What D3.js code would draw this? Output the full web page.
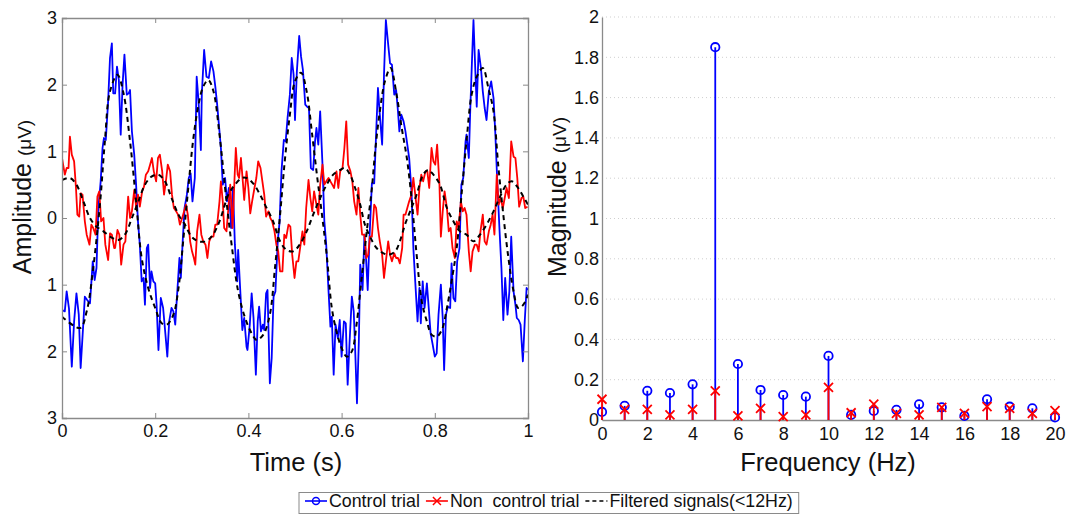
<!DOCTYPE html>
<html lang="en">
<head>
<meta charset="UTF-8">
<title>Control vs non control trial</title>
<script src="https://d3js.org/d3.v7.min.js"></script>
<style>
  body { margin: 0; background: #fff; }
  svg text { font-family: "Liberation Sans", Arial, sans-serif; fill: #111; }
</style>
</head>
<body>
<svg id="chart" width="1070" height="514"></svg>
<script>
// ---- time domain data, [time (s), amplitude (uV)] ----
var controlTrial = [
  [0.000,-1.38],[0.006,-1.40],[0.010,-1.10],[0.015,-1.36],[0.021,-2.23],[0.026,-1.55],[0.031,-1.13],[0.036,-1.45],
  [0.040,-2.25],[0.046,-1.55],[0.049,-1.18],[0.054,-1.23],[0.060,-1.28],[0.066,-0.65],[0.070,-0.93],[0.074,-0.75],
  [0.078,0.15],[0.083,0.55],[0.087,1.05],[0.090,1.20],[0.094,1.17],[0.099,1.75],[0.103,2.40],[0.107,2.62],
  [0.110,1.87],[0.114,1.87],[0.118,2.27],[0.122,2.07],[0.126,1.25],[0.130,2.00],[0.134,2.45],[0.139,1.85],
  [0.143,1.87],[0.146,1.92],[0.150,1.30],[0.155,0.95],[0.159,0.50],[0.163,-0.05],[0.167,-0.40],[0.171,-0.95],
  [0.175,-0.90],[0.178,-1.30],[0.182,-0.45],[0.185,-0.40],[0.189,-1.05],[0.192,-0.80],[0.196,-0.95],[0.200,-0.98],
  [0.203,-1.30],[0.207,-1.98],[0.212,-1.20],[0.217,-1.35],[0.222,-1.75],[0.226,-2.08],[0.230,-1.55],[0.235,-1.35],
  [0.239,-1.40],[0.243,-1.60],[0.247,-1.15],[0.252,-0.60],[0.255,-0.90],[0.259,-0.35],[0.263,0.15],[0.268,0.35],
  [0.272,0.60],[0.276,0.67],[0.280,0.25],[0.285,0.60],[0.289,2.12],[0.293,1.75],[0.298,1.02],[0.300,1.85],
  [0.305,2.52],[0.310,2.12],[0.315,2.10],[0.320,2.35],[0.325,2.20],[0.329,1.97],[0.333,1.70],[0.341,1.05],
  [0.345,0.50],[0.350,0.60],[0.354,0.25],[0.358,0.45],[0.363,-0.15],[0.367,0.45],[0.371,-0.40],[0.376,-0.95],
  [0.378,-0.48],[0.383,-1.15],[0.387,-1.68],[0.391,-1.50],[0.396,-1.93],[0.398,-1.98],[0.403,-1.60],[0.407,-1.13],
  [0.411,-1.50],[0.416,-2.35],[0.420,-1.55],[0.423,-1.33],[0.427,-1.70],[0.431,-1.60],[0.434,-1.68],[0.438,-1.13],
  [0.441,-1.08],[0.446,-2.48],[0.450,-2.10],[0.454,-1.18],[0.458,-1.10],[0.463,-0.35],[0.467,-0.05],[0.471,0.70],
  [0.476,1.17],[0.480,1.15],[0.484,1.50],[0.489,1.85],[0.493,2.40],[0.497,2.15],[0.500,1.47],[0.504,2.20],
  [0.509,2.73],[0.513,2.42],[0.517,2.22],[0.522,1.70],[0.526,1.67],[0.530,1.65],[0.534,0.75],[0.539,0.72],
  [0.543,1.15],[0.546,1.35],[0.550,1.10],[0.554,1.60],[0.559,0.80],[0.563,-0.05],[0.567,-0.40],[0.572,-1.10],
  [0.576,-1.63],[0.579,-1.48],[0.583,-2.35],[0.587,-1.60],[0.592,-1.80],[0.596,-1.53],[0.600,-2.08],[0.605,-1.55],
  [0.609,-1.58],[0.613,-2.50],[0.617,-1.88],[0.622,-1.18],[0.626,-1.40],[0.629,-1.95],[0.633,-2.78],[0.637,-1.85],
  [0.640,-0.70],[0.645,-1.08],[0.649,-0.25],[0.652,-0.55],[0.656,-1.08],[0.660,-0.28],[0.665,0.52],[0.670,0.52],
  [0.674,1.25],[0.678,1.95],[0.682,1.55],[0.687,1.10],[0.691,2.15],[0.695,2.97],[0.700,2.60],[0.704,2.32],
  [0.708,2.30],[0.713,1.85],[0.717,1.92],[0.721,1.60],[0.724,1.30],[0.728,1.55],[0.733,1.45],[0.737,1.30],
  [0.741,1.10],[0.745,0.90],[0.750,0.40],[0.754,-0.45],[0.758,-0.95],[0.763,-1.55],[0.767,-1.05],[0.770,-1.58],
  [0.774,-0.95],[0.778,-1.35],[0.783,-0.98],[0.787,-1.35],[0.791,-1.73],[0.795,-1.88],[0.800,-2.08],[0.804,-2.03],
  [0.808,-1.45],[0.813,-1.00],[0.817,-1.50],[0.820,-2.28],[0.824,-1.45],[0.828,-1.33],[0.833,-1.35],[0.836,-0.68],
  [0.840,-1.20],[0.844,-1.25],[0.848,-0.65],[0.853,-0.45],[0.857,0.50],[0.861,0.60],[0.866,1.15],[0.868,1.25],
  [0.873,0.90],[0.876,1.60],[0.880,2.40],[0.883,2.97],[0.887,2.20],[0.890,1.67],[0.894,2.52],[0.899,2.25],
  [0.903,1.90],[0.907,1.65],[0.911,1.47],[0.916,1.90],[0.921,2.05],[0.926,1.80],[0.930,1.25],[0.934,0.55],
  [0.939,-0.20],[0.943,-0.75],[0.947,-1.53],[0.951,-0.90],[0.956,-1.45],[0.960,-1.10],[0.964,-0.28],[0.969,-1.10],
  [0.973,-1.30],[0.976,-1.50],[0.980,-1.53],[0.984,-1.60],[0.989,-2.15],[0.993,-1.55],[0.997,-1.05],[1.000,-1.08]
];

var nonControlTrial = [
  [0.000,0.90],[0.006,0.65],[0.010,0.75],[0.014,0.75],[0.017,1.22],[0.021,0.95],[0.026,0.85],[0.030,0.45],
  [0.033,0.05],[0.037,0.02],[0.040,0.37],[0.044,0.35],[0.049,-0.05],[0.053,-0.25],[0.059,-0.40],[0.063,-0.10],
  [0.067,-0.15],[0.072,-0.25],[0.076,0.32],[0.080,0.40],[0.084,-0.05],[0.089,0.00],[0.093,-0.40],[0.099,-0.63],
  [0.103,-0.23],[0.107,-0.25],[0.112,-0.45],[0.114,-0.45],[0.119,-0.18],[0.123,-0.25],[0.127,-0.70],[0.132,-0.40],
  [0.136,-0.35],[0.142,0.32],[0.146,0.00],[0.150,0.10],[0.155,0.42],[0.159,0.17],[0.163,0.35],[0.167,0.17],
  [0.172,0.40],[0.176,0.47],[0.180,0.65],[0.185,0.70],[0.189,0.80],[0.193,0.90],[0.197,0.70],[0.202,0.55],
  [0.206,0.90],[0.210,0.95],[0.215,0.70],[0.219,0.35],[0.223,0.55],[0.227,0.80],[0.232,0.70],[0.236,0.35],
  [0.240,0.15],[0.245,0.10],[0.249,0.05],[0.253,-0.10],[0.258,0.00],[0.262,0.10],[0.266,0.20],[0.270,0.05],
  [0.275,-0.35],[0.279,-0.50],[0.283,-0.60],[0.286,-0.70],[0.290,-0.20],[0.295,0.05],[0.299,-0.25],[0.303,-0.35],
  [0.308,-0.40],[0.312,-0.60],[0.316,-0.35],[0.320,-0.28],[0.325,-0.28],[0.329,-0.10],[0.333,-0.10],[0.338,0.25],
  [0.341,0.55],[0.345,0.25],[0.348,-0.15],[0.353,-0.20],[0.357,0.15],[0.361,0.50],[0.366,-0.15],[0.370,0.55],
  [0.373,1.05],[0.377,0.65],[0.380,0.60],[0.384,0.90],[0.388,0.55],[0.391,0.27],[0.396,0.70],[0.400,0.45],
  [0.404,0.07],[0.408,0.25],[0.413,0.45],[0.417,0.60],[0.421,0.85],[0.426,0.75],[0.430,0.55],[0.434,0.35],
  [0.438,0.02],[0.443,0.10],[0.447,0.00],[0.451,-0.05],[0.456,-0.20],[0.460,-0.40],[0.464,-0.50],[0.468,-0.80],
  [0.473,-0.80],[0.477,-0.25],[0.481,-0.30],[0.486,-0.10],[0.490,-0.13],[0.494,-0.55],[0.499,-0.90],[0.503,-0.65],
  [0.507,-0.65],[0.511,-0.45],[0.516,-0.20],[0.520,-0.40],[0.524,0.15],[0.529,0.57],[0.533,0.30],[0.537,0.10],
  [0.541,0.40],[0.546,0.20],[0.550,0.05],[0.554,0.50],[0.559,0.80],[0.563,0.50],[0.567,0.55],[0.572,0.60],
  [0.576,0.55],[0.580,0.50],[0.584,0.45],[0.589,0.70],[0.593,0.45],[0.597,0.70],[0.602,0.75],[0.606,1.05],
  [0.610,1.45],[0.614,0.80],[0.619,0.70],[0.623,0.55],[0.627,0.25],[0.632,0.05],[0.636,0.45],[0.640,0.05],
  [0.644,-0.25],[0.649,-0.25],[0.653,-0.60],[0.657,-0.55],[0.661,-0.28],[0.665,-0.28],[0.670,0.20],[0.674,0.15],
  [0.678,-0.15],[0.682,-0.35],[0.687,-0.55],[0.691,-0.90],[0.695,-0.65],[0.700,-0.35],[0.704,-0.55],[0.708,-0.65],
  [0.713,-0.53],[0.717,-0.60],[0.721,-0.60],[0.725,-0.68],[0.730,-0.45],[0.733,0.05],[0.737,0.05],[0.741,0.15],
  [0.745,0.25],[0.750,0.35],[0.754,0.60],[0.758,0.35],[0.763,0.05],[0.767,0.45],[0.771,0.65],[0.775,0.55],
  [0.780,0.70],[0.784,0.70],[0.788,0.45],[0.793,1.05],[0.797,0.85],[0.801,0.80],[0.805,1.10],[0.810,0.50],
  [0.813,-0.28],[0.817,0.10],[0.821,0.40],[0.826,0.15],[0.830,-0.20],[0.834,-0.15],[0.838,-0.45],[0.843,-0.60],
  [0.847,-0.05],[0.851,-0.15],[0.856,0.25],[0.860,0.10],[0.864,0.15],[0.868,0.05],[0.873,-0.50],[0.877,-0.80],
  [0.881,-0.50],[0.886,-0.40],[0.890,-0.40],[0.894,-0.50],[0.898,-0.20],[0.903,0.05],[0.907,-0.35],[0.911,-0.40],
  [0.916,-0.20],[0.920,-0.10],[0.924,0.05],[0.928,-0.25],[0.933,0.65],[0.937,0.20],[0.941,0.30],[0.946,0.15],
  [0.950,0.30],[0.954,0.45],[0.959,0.30],[0.964,1.15],[0.969,0.92],[0.973,0.90],[0.977,0.60],[0.981,0.17],
  [0.986,0.30],[0.990,0.32],[0.994,0.15],[0.999,0.17]
];

var filteredControl = [
  [0.000,-1.48],[0.039,-1.65],[0.053,-1.40],[0.067,-0.75],[0.082,0.25],[0.092,1.15],[0.103,1.90],[0.119,2.15],
  [0.132,1.87],[0.146,1.15],[0.159,0.25],[0.171,-0.60],[0.185,-1.05],[0.200,-1.35],[0.214,-1.58],[0.225,-1.60],
  [0.239,-1.45],[0.250,-1.05],[0.260,-0.35],[0.271,0.45],[0.282,1.20],[0.293,1.70],[0.303,1.97],[0.314,2.07],
  [0.325,1.90],[0.338,1.25],[0.353,0.25],[0.364,-0.40],[0.378,-1.10],[0.393,-1.50],[0.407,-1.73],[0.418,-1.83],
  [0.432,-1.75],[0.446,-1.45],[0.457,-0.75],[0.468,0.05],[0.478,0.85],[0.489,1.55],[0.500,2.05],[0.513,2.18],
  [0.525,1.90],[0.536,1.30],[0.547,0.65],[0.557,0.10],[0.568,-0.55],[0.579,-1.35],[0.589,-1.70],[0.600,-1.95],
  [0.611,-2.08],[0.622,-2.00],[0.632,-1.60],[0.643,-0.90],[0.654,-0.20],[0.665,0.45],[0.672,1.00],[0.682,1.60],
  [0.693,2.05],[0.705,2.25],[0.718,1.85],[0.729,1.35],[0.740,0.90],[0.750,0.30],[0.761,-0.55],[0.772,-1.25],
  [0.783,-1.55],[0.793,-1.75],[0.804,-1.78],[0.815,-1.68],[0.826,-1.35],[0.836,-0.95],[0.847,-0.45],[0.858,0.40],
  [0.868,1.15],[0.879,1.85],[0.890,2.12],[0.903,2.25],[0.915,1.95],[0.926,1.60],[0.936,0.80],[0.947,0.05],
  [0.958,-0.60],[0.969,-1.10],[0.979,-1.35],[0.990,-1.30],[1.000,-1.15]
];

var filteredNonControl = [
  [0.000,0.57],[0.017,0.60],[0.031,0.50],[0.046,0.25],[0.060,0.00],[0.074,-0.13],[0.089,-0.20],[0.103,-0.28],
  [0.121,-0.33],[0.135,-0.25],[0.150,0.00],[0.164,0.25],[0.178,0.50],[0.192,0.62],[0.207,0.65],[0.221,0.55],
  [0.235,0.30],[0.250,0.05],[0.264,-0.10],[0.278,-0.28],[0.293,-0.35],[0.307,-0.35],[0.321,-0.28],[0.338,-0.05],
  [0.357,0.35],[0.371,0.50],[0.386,0.60],[0.396,0.60],[0.410,0.52],[0.425,0.35],[0.439,0.15],[0.453,-0.05],
  [0.468,-0.35],[0.482,-0.48],[0.496,-0.50],[0.510,-0.40],[0.525,-0.20],[0.539,0.05],[0.554,0.30],[0.568,0.50],
  [0.582,0.65],[0.597,0.72],[0.607,0.75],[0.618,0.65],[0.629,0.45],[0.640,0.20],[0.650,-0.10],[0.661,-0.28],
  [0.675,-0.45],[0.690,-0.53],[0.700,-0.55],[0.715,-0.50],[0.725,-0.35],[0.736,-0.10],[0.747,0.10],[0.761,0.35],
  [0.775,0.65],[0.786,0.72],[0.797,0.65],[0.811,0.50],[0.826,0.15],[0.840,-0.05],[0.854,-0.20],[0.868,-0.25],
  [0.883,-0.35],[0.897,-0.25],[0.911,-0.10],[0.926,0.10],[0.940,0.32],[0.954,0.50],[0.965,0.55],[0.979,0.45],
  [0.990,0.32],[1.000,0.20]
];

// ---- spectrum data ----
var freqs = d3.range(0, 21);
var controlMag    = [0.04,0.07,0.145,0.134,0.177,1.85,0.278,0.149,0.124,0.116,0.318,0.025,0.045,0.05,0.078,0.063,0.02,0.103,0.066,0.058,0.013];
var nonControlMag = [0.103,0.053,0.053,0.025,0.053,0.145,0.02,0.058,0.017,0.025,0.162,0.036,0.079,0.033,0.025,0.063,0.033,0.066,0.058,0.033,0.046];

var timeTicks = [0, 0.2, 0.4, 0.6, 0.8, 1];
var ampTicks = [-3, -2, -1, 0, 1, 2, 3];
var magTicks = d3.range(0, 2.01, 0.2);
var freqTicks = d3.range(0, 21, 2);

var svg = d3.select("#chart");
var axisColor = "#8a8a8a";

// ================= left panel =================
var x1 = d3.scaleLinear().domain([0, 1]).range([62, 528]);
var y1 = d3.scaleLinear().domain([-3, 3]).range([418, 18]);

svg.append("clipPath").attr("id", "clipL")
  .append("rect").attr("x", 62).attr("y", 18).attr("width", 466).attr("height", 400);

var left = svg.append("g");

var lineT = d3.line().x(d => x1(d[0])).y(d => y1(d[1]));
var smoothT = d3.line().x(d => x1(d[0])).y(d => y1(d[1])).curve(d3.curveCatmullRom);

var plotL = left.append("g").attr("clip-path", "url(#clipL)");
plotL.append("path").datum(controlTrial).attr("d", lineT)
  .attr("fill", "none").attr("stroke", "#0000ff").attr("stroke-width", 1.8).attr("stroke-linejoin", "round");
plotL.append("path").datum(nonControlTrial).attr("d", lineT)
  .attr("fill", "none").attr("stroke", "#ff0000").attr("stroke-width", 1.8).attr("stroke-linejoin", "round");
plotL.append("path").datum(filteredControl).attr("d", smoothT)
  .attr("fill", "none").attr("stroke", "#000").attr("stroke-width", 2).attr("stroke-dasharray", "5,4");
plotL.append("path").datum(filteredNonControl).attr("d", smoothT)
  .attr("fill", "none").attr("stroke", "#000").attr("stroke-width", 2).attr("stroke-dasharray", "5,4");

// box with inward ticks on all four sides
left.append("g").attr("transform", "translate(0,418)")
  .call(d3.axisBottom(x1).tickValues(timeTicks).tickSize(-5).tickPadding(6).tickFormat(d3.format("~g")));
left.append("g").attr("transform", "translate(0,18)")
  .call(d3.axisTop(x1).tickValues(timeTicks).tickSize(-5).tickFormat(""));
left.append("g").attr("transform", "translate(62,0)")
  .call(d3.axisLeft(y1).tickValues(ampTicks).tickSize(-5).tickPadding(5).tickFormat(d => Math.abs(d)));
left.append("g").attr("transform", "translate(528,0)")
  .call(d3.axisRight(y1).tickValues(ampTicks).tickSize(-5).tickFormat(""));

// ================= right panel =================
var x2 = d3.scaleLinear().domain([0, 20]).range([602, 1055]);
var y2 = d3.scaleLinear().domain([0, 2]).range([420, 17]);

var right = svg.append("g");

right.append("g").selectAll("line").data(magTicks.slice(1)).join("line")
  .attr("x1", 602).attr("x2", 1055)
  .attr("y1", d => y2(d)).attr("y2", d => y2(d))
  .attr("stroke", "#cfcfcf").attr("stroke-width", 1).attr("stroke-dasharray", "1,3");

right.append("g").attr("transform", "translate(602,0)")
  .call(d3.axisLeft(y2).tickValues(magTicks).tickSize(0).tickPadding(3).tickFormat(d3.format("~g")));
right.append("g").attr("transform", "translate(0,420)")
  .call(d3.axisBottom(x2).tickValues(freqTicks).tickSize(0).tickPadding(7).tickFormat(d3.format("d")));

// control stems
var cStem = right.append("g");
cStem.selectAll("line").data(freqs).join("line")
  .attr("x1", d => x2(d)).attr("x2", d => x2(d))
  .attr("y1", y2(0)).attr("y2", (d, i) => y2(controlMag[i]))
  .attr("stroke", "#0000ff").attr("stroke-width", 1.8);
cStem.selectAll("circle").data(freqs).join("circle")
  .attr("cx", d => x2(d)).attr("cy", (d, i) => y2(controlMag[i])).attr("r", 4.2)
  .attr("fill", "none").attr("stroke", "#0000ff").attr("stroke-width", 1.8);

// non control stems
var nStem = right.append("g");
nStem.selectAll("line").data(freqs).join("line")
  .attr("x1", d => x2(d)).attr("x2", d => x2(d))
  .attr("y1", y2(0)).attr("y2", (d, i) => y2(nonControlMag[i]))
  .attr("stroke", "#ff0000").attr("stroke-width", 1.8);
nStem.selectAll("path").data(freqs).join("path")
  .attr("transform", (d, i) => "translate(" + x2(d) + "," + y2(nonControlMag[i]) + ")")
  .attr("d", "M-4.5,-4.5L4.5,4.5M-4.5,4.5L4.5,-4.5")
  .attr("stroke", "#ff0000").attr("stroke-width", 1.8);

// axis styling
svg.selectAll(".domain").attr("stroke", axisColor).attr("stroke-width", 1.3);
svg.selectAll(".tick line").attr("stroke", axisColor);
svg.selectAll(".tick text").attr("font-size", 18).attr("fill", "#111")
  .attr("font-family", "'Liberation Sans', Arial, sans-serif");

// ================= titles =================
function yTitle(x, word) {
  var t = svg.append("text")
    .attr("transform", "translate(" + x + ",197) rotate(-90)")
    .attr("text-anchor", "middle");
  t.append("tspan").attr("font-size", 25).text(word + " ");
  t.append("tspan").attr("font-size", 19).text("(\u03bcV)");
}
yTitle(31, "Amplitude");
yTitle(566, "Magnitude");

svg.append("text").attr("x", 296).attr("y", 471).attr("text-anchor", "middle")
  .attr("font-size", 25.5).text("Time (s)");
svg.append("text").attr("x", 828).attr("y", 471).attr("text-anchor", "middle")
  .attr("font-size", 25.5).text("Frequency (Hz)");

// ================= legend =================
var legendItems = [
  {label: "Control trial", color: "#0000ff", marker: "circle", dash: null},
  {label: "Non  control trial", color: "#ff0000", marker: "x", dash: null},
  {label: "Filtered signals(<12Hz)", color: "#000", marker: null, dash: "4,3"}
];

var legend = svg.append("g");
var legendBox = legend.append("rect").attr("y", 492.5).attr("height", 21)
  .attr("fill", "#fff").attr("stroke", axisColor).attr("stroke-width", 1);

var lx = 305;
legendItems.forEach(function(it) {
  legend.append("line").attr("x1", lx).attr("x2", lx + 22).attr("y1", 501).attr("y2", 501)
    .attr("stroke", it.color).attr("stroke-width", 1.6)
    .attr("stroke-dasharray", it.dash);
  if (it.marker === "circle") {
    legend.append("circle").attr("cx", lx + 11).attr("cy", 501).attr("r", 3.5)
      .attr("fill", "none").attr("stroke", it.color).attr("stroke-width", 1.5);
  } else if (it.marker === "x") {
    legend.append("path").attr("transform", "translate(" + (lx + 11) + ",501)")
      .attr("d", "M-4,-4L4,4M-4,4L4,-4").attr("stroke", it.color).attr("stroke-width", 1.5);
  }
  var txt = legend.append("text").attr("x", lx + 24).attr("y", 507)
    .attr("font-size", 17.8).style("white-space", "pre").text(it.label);
  lx = lx + 24 + txt.node().getComputedTextLength() + 6;
});
legendBox.attr("x", 299).attr("width", lx - 299);
</script>
</body>
</html>
